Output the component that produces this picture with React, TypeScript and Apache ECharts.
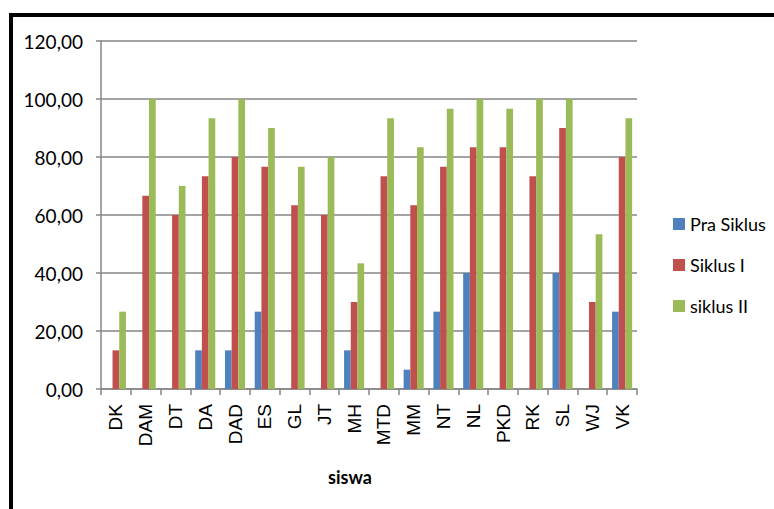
import React, { useEffect, useRef } from "react";
import * as echarts from "echarts";

const categories = ["DK", "DAM", "DT", "DA", "DAD", "ES", "GL", "JT", "MH", "MTD", "MM", "NT", "NL", "PKD", "RK", "SL", "WJ", "VK"];
const praSiklus = [0, 0, 0, 13.33, 13.33, 26.67, 0, 0, 13.33, 0, 6.67, 26.67, 40, 0, 0, 40, 0, 26.67];
const siklusI = [13.33, 66.67, 60, 73.33, 80, 76.67, 63.33, 60, 30, 73.33, 63.33, 76.67, 83.33, 83.33, 73.33, 90, 30, 80];
const siklusII = [26.67, 100, 70, 93.33, 100, 90, 76.67, 80, 43.33, 93.33, 83.33, 96.67, 100, 96.67, 100, 100, 53.33, 93.33];
const seriesNames = ["Pra Siklus", "Siklus I", "siklus II"];
const colors = ["#4F81BD", "#C0504D", "#9BBB59"];
const yTicks = { min: 0, max: 120, interval: 20 };
const xTitle = "siswa";

export default function App() {
  const ref = useRef<HTMLDivElement>(null);
  useEffect(() => {
    if (!ref.current) return;
    const chart = echarts.init(ref.current, null, { renderer: "svg" });
    const data = [praSiklus, siklusI, siklusII];
    chart.setOption({
      animation: false,
      backgroundColor: "#ffffff",
      grid: { left: 101, right: 137, top: 41, bottom: 120, containLabel: false },
      legend: {
        orient: "vertical",
        left: 668,
        top: 210,
        itemWidth: 12,
        itemHeight: 12,
        itemGap: 23,
        icon: "rect",
        textStyle: { fontFamily: "Lato", fontSize: 18, color: "#000" },
        data: seriesNames,
      },
      xAxis: {
        type: "category",
        data: categories,
        axisLine: { lineStyle: { color: "#868686", width: 1.5 } },
        axisTick: { show: true, length: 6, lineStyle: { color: "#868686", width: 1.5 } },
        axisLabel: {
          rotate: 90,
          margin: 15,
          interval: 0,
          fontFamily: "Liberation Sans",
          fontSize: 19,
          color: "#000",
        },
      },
      yAxis: {
        type: "value",
        min: yTicks.min,
        max: yTicks.max,
        interval: yTicks.interval,
        axisLine: { show: true, lineStyle: { color: "#868686", width: 1.5 } },
        axisTick: { show: true, length: 5, lineStyle: { color: "#868686", width: 1.5 } },
        splitLine: { lineStyle: { color: "#868686", width: 1.5 } },
        axisLabel: {
          margin: 18,
          fontFamily: "Lato",
          fontSize: 19,
          color: "#000",
          formatter: (v: number) => v.toFixed(2).replace(".", ","),
        },
      },
      series: seriesNames.map((name, i) => ({
        name,
        type: "bar",
        data: data[i],
        barWidth: 6.7,
        barGap: "0%",
        itemStyle: { color: colors[i] },
      })),
      graphic: [
        { type: "rect", shape: { x: 9, y: 13, width: 4, height: 500 }, style: { fill: "#000" } },
        { type: "rect", shape: { x: 9, y: 13, width: 770, height: 4 }, style: { fill: "#000" } },
        {
          type: "text",
          x: 350,
          y: 477,
          style: {
            text: xTitle,
            fontFamily: "Lato",
            fontWeight: "bold",
            fontSize: 18,
            fill: "#000",
            textAlign: "center",
            textVerticalAlign: "middle",
          },
        },
      ],
    });
    return () => chart.dispose();
  }, []);
  return <div ref={ref} style={{ position: "fixed", left: 0, top: 0, width: 774, height: 509 }} />;
}
